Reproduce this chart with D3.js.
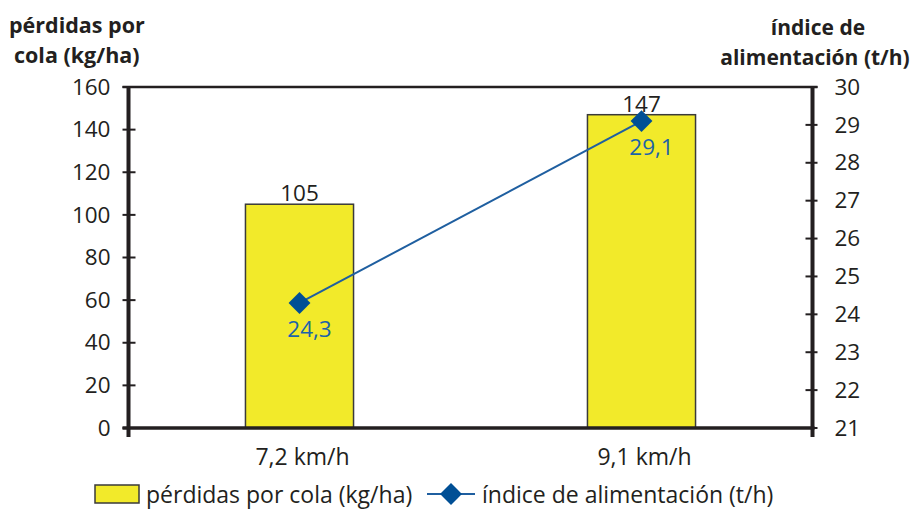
<!DOCTYPE html>
<html>
<head>
<meta charset="utf-8">
<script src="https://cdn.jsdelivr.net/npm/d3@7"></script>
<style>
  html, body { margin: 0; padding: 0; background: #fff; }
  svg { display: block; font-family: "Open Sans", "Noto Sans", sans-serif; }
</style>
</head>
<body>
<svg id="chart" width="923" height="509"></svg>
<script>
// Data
const categories = ["7,2 km/h", "9,1 km/h"];
const perdidas = [105, 147];          // kg/ha (bars, left axis)
const indice = [24.3, 29.1];          // t/h (line, right axis)
const leftTicks = [0, 20, 40, 60, 80, 100, 120, 140, 160];
const rightTicks = [21, 22, 23, 24, 25, 26, 27, 28, 29, 30];
const indiceLabels = ["24,3", "29,1"];

const svg = d3.select("#chart");
const plot = { left: 128.5, right: 812.5, top: 87, bottom: 428 };
const fs = 22.5;

const x = d3.scaleBand()
  .domain(categories)
  .range([plot.left, plot.right])
  .paddingInner(0.684)
  .paddingOuter(0.342);

const yL = d3.scaleLinear().domain([0, 160]).range([plot.bottom, plot.top]);
const yR = d3.scaleLinear().domain([21, 30]).range([plot.bottom, plot.top]);

const axisColor = "#231f20";
const textColor = "#231f20";
const blue = "#004f95";
const labelBlue = "#1c63a8";

// Top frame line of the plot area
svg.append("line")
  .attr("x1", plot.left - 6).attr("x2", plot.right + 5)
  .attr("y1", plot.top).attr("y2", plot.top)
  .attr("stroke", axisColor).attr("stroke-width", 2.5);

// Bars
svg.selectAll("rect.bar")
  .data(perdidas)
  .join("rect")
  .attr("class", "bar")
  .attr("x", (d, i) => x(categories[i]))
  .attr("y", d => yL(d))
  .attr("width", x.bandwidth())
  .attr("height", d => yL(0) - yL(d))
  .attr("fill", "#f2ea2a")
  .attr("stroke", "#3a3a3a")
  .attr("stroke-width", 1.5);

// Bar value labels
svg.selectAll("text.barlabel")
  .data(perdidas)
  .join("text")
  .attr("x", (d, i) => x(categories[i]) + x.bandwidth() / 2)
  .attr("y", d => yL(d) - 3)
  .attr("text-anchor", "middle")
  .attr("font-size", fs)
  .attr("fill", textColor)
  .text(d => d);

// Left axis
const leftAxis = d3.axisLeft(yL).tickValues(leftTicks).tickSize(0).tickPadding(18);
const gL = svg.append("g").attr("transform", `translate(${plot.left},0)`).call(leftAxis);
gL.select(".domain").remove();
gL.selectAll("text").attr("font-size", fs).attr("fill", textColor).attr("font-family", "Open Sans, sans-serif");
svg.selectAll("line.ltick").data(leftTicks).join("line")
  .attr("x1", plot.left - 6).attr("x2", plot.left + 7)
  .attr("y1", d => yL(d)).attr("y2", d => yL(d))
  .attr("stroke", axisColor).attr("stroke-width", 2);
svg.append("line")
  .attr("x1", plot.left).attr("x2", plot.left)
  .attr("y1", plot.top - 1).attr("y2", plot.bottom + 9)
  .attr("stroke", axisColor).attr("stroke-width", 4);

// Right axis
const rightAxis = d3.axisRight(yR).tickValues(rightTicks).tickSize(0).tickPadding(22);
const gR = svg.append("g").attr("transform", `translate(${plot.right},0)`).call(rightAxis);
gR.select(".domain").remove();
gR.selectAll("text").attr("font-size", fs).attr("fill", textColor).attr("font-family", "Open Sans, sans-serif");
svg.selectAll("line.rtick").data(rightTicks).join("line")
  .attr("x1", plot.right - 7).attr("x2", plot.right + 5)
  .attr("y1", d => yR(d)).attr("y2", d => yR(d))
  .attr("stroke", axisColor).attr("stroke-width", 2);
svg.append("line")
  .attr("x1", plot.right).attr("x2", plot.right)
  .attr("y1", plot.top - 1).attr("y2", plot.bottom + 9)
  .attr("stroke", axisColor).attr("stroke-width", 4);

// Bottom axis
svg.append("line")
  .attr("x1", plot.left - 6).attr("x2", plot.right + 2)
  .attr("y1", plot.bottom).attr("y2", plot.bottom)
  .attr("stroke", axisColor).attr("stroke-width", 3.5);
const bottomAxis = d3.axisBottom(x).tickSize(0).tickPadding(21);
const gB = svg.append("g").attr("transform", `translate(0,${plot.bottom})`).call(bottomAxis);
gB.select(".domain").remove();
gB.selectAll("text").attr("font-size", 23).attr("fill", textColor).attr("font-family", "Open Sans, sans-serif")
  .attr("dx", 3);

// Line series
const line = d3.line()
  .x((d, i) => x(categories[i]) + x.bandwidth() / 2)
  .y(d => yR(d));
svg.append("path")
  .datum(indice)
  .attr("d", line)
  .attr("fill", "none")
  .attr("stroke", "#1f5fa0")
  .attr("stroke-width", 2);

const marker = d3.symbol().type(d3.symbolSquare).size(240);
svg.selectAll("path.marker")
  .data(indice)
  .join("path")
  .attr("class", "marker")
  .attr("transform", (d, i) => `translate(${x(categories[i]) + x.bandwidth() / 2},${yR(d)}) rotate(45)`)
  .attr("d", marker)
  .attr("fill", blue);

svg.selectAll("text.linelabel")
  .data(indice)
  .join("text")
  .attr("x", (d, i) => x(categories[i]) + x.bandwidth() / 2 + 10)
  .attr("y", d => yR(d) + 34)
  .attr("text-anchor", "middle")
  .attr("font-size", fs)
  .attr("fill", labelBlue)
  .text((d, i) => indiceLabels[i]);

// Axis titles
const leftTitle = svg.append("text").attr("font-weight", "bold").attr("font-size", 21.5).attr("fill", textColor);
leftTitle.append("tspan").attr("x", 9).attr("y", 33).text("pérdidas por");
leftTitle.append("tspan").attr("x", 14).attr("y", 63).text("cola (kg/ha)");

const rightTitle = svg.append("text").attr("font-weight", "bold").attr("font-size", 21).attr("fill", textColor)
  .attr("text-anchor", "middle");
rightTitle.append("tspan").attr("x", 818).attr("y", 35).text("índice de");
rightTitle.append("tspan").attr("x", 815).attr("y", 65).text("alimentación (t/h)");

// Legend
const legend = svg.append("g");
legend.append("rect")
  .attr("x", 95).attr("y", 485).attr("width", 44).attr("height", 18)
  .attr("fill", "#f2ea2a").attr("stroke", "#3a3a3a").attr("stroke-width", 1.5);
legend.append("text")
  .attr("x", 146).attr("y", 503)
  .attr("font-size", 23).attr("fill", textColor)
  .text("pérdidas por cola (kg/ha)");
legend.append("line")
  .attr("x1", 427).attr("x2", 475).attr("y1", 494).attr("y2", 494)
  .attr("stroke", "#1f5fa0").attr("stroke-width", 2);
legend.append("path")
  .attr("transform", "translate(451,494) rotate(45)")
  .attr("d", marker)
  .attr("fill", blue);
legend.append("text")
  .attr("x", 482).attr("y", 503)
  .attr("font-size", 23).attr("fill", textColor)
  .text("índice de alimentación (t/h)");
</script>
</body>
</html>
